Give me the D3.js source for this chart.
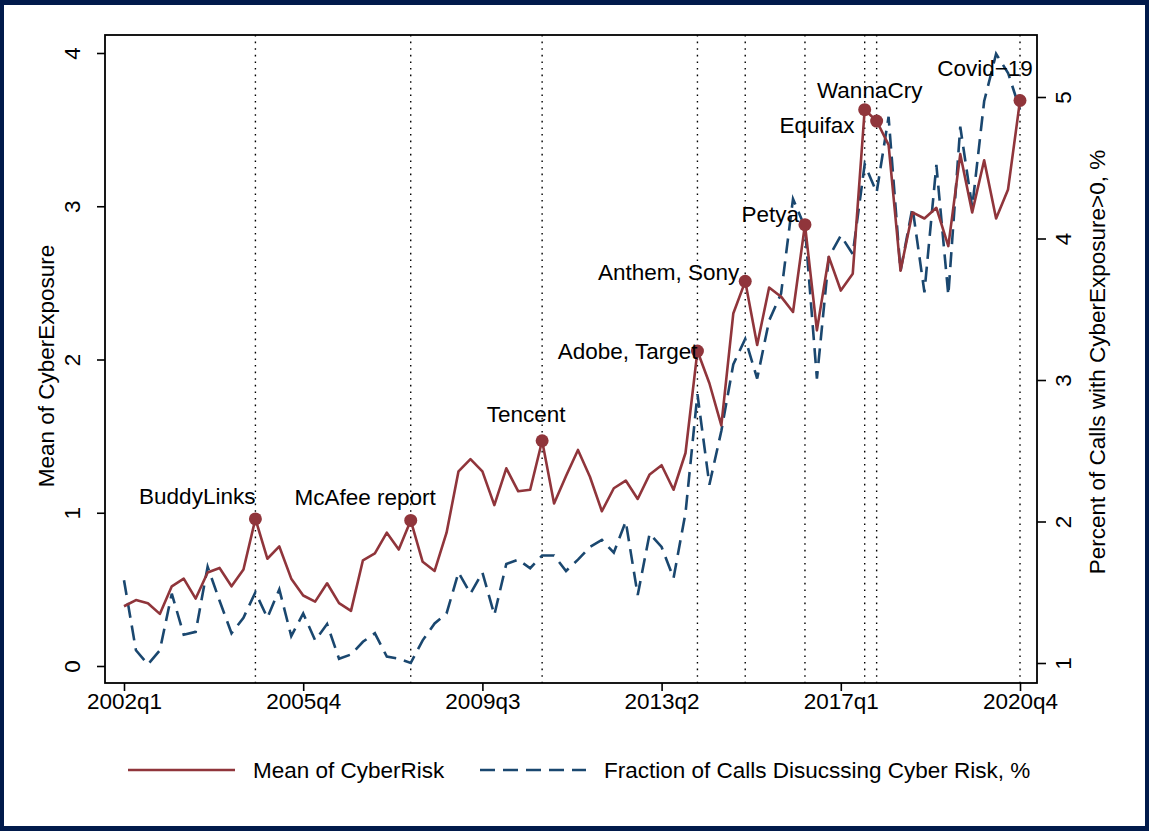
<!DOCTYPE html>
<html>
<head>
<meta charset="utf-8">
<script src="https://cdn.jsdelivr.net/npm/d3@7"></script>
<style>
  html, body { margin: 0; padding: 0; background: #011a4b; }
  svg { display: block; }
  text { font-family: "Liberation Sans", Arial, Helvetica, sans-serif; fill: #000; }
</style>
</head>
<body>
<svg id="chart" width="1149" height="831"></svg>
<script>
// quarterly series, 2002q1 .. 2020q4
var startYear = 2002;
var meanCyberRisk = [
  0.39, 0.43, 0.41, 0.34, 0.52, 0.57, 0.44, 0.61, 0.64, 0.52,
  0.63, 0.96, 0.70, 0.78, 0.57, 0.46, 0.42, 0.54, 0.41, 0.36,
  0.69, 0.735, 0.87, 0.76, 0.95, 0.68, 0.62, 0.87, 1.27, 1.35,
  1.27, 1.05, 1.29, 1.14, 1.15, 1.47, 1.06, 1.24, 1.41, 1.235,
  1.01, 1.16, 1.21, 1.09, 1.25, 1.31, 1.15, 1.39, 2.055, 1.845,
  1.57, 2.30, 2.51, 2.095, 2.47, 2.41, 2.31, 2.88, 2.19, 2.67,
  2.45, 2.56, 3.63, 3.556, 3.40, 2.58, 2.96, 2.92, 2.99, 2.74,
  3.34, 2.96, 3.30, 2.92, 3.11, 3.69
];
var fractionCalls = [
  1.585, 1.09, 0.99, 1.09, 1.49, 1.20, 1.22, 1.68, 1.44, 1.21,
  1.32, 1.50, 1.32, 1.52, 1.19, 1.35, 1.16, 1.275, 1.03, 1.06,
  1.15, 1.21, 1.045, 1.03, 1.00, 1.16, 1.28, 1.35, 1.64, 1.49,
  1.64, 1.34, 1.70, 1.73, 1.67, 1.76, 1.76, 1.65, 1.73, 1.82,
  1.87, 1.78, 2.00, 1.48, 1.915, 1.82, 1.60, 2.06, 2.90, 2.26,
  2.64, 3.11, 3.29, 3.01, 3.42, 3.61, 4.28, 4.08, 3.01, 3.87,
  4.02, 3.89, 4.525, 4.325, 4.86, 3.77, 4.22, 3.62, 4.52, 3.60,
  4.79, 4.22, 4.97, 5.305, 5.17, 4.91
];
var eventLabels = ["BuddyLinks", "McAfee report", "Tencent", "Adobe, Target", "Anthem, Sony", "Petya", "WannaCry", "Equifax", "Covid\u221219"];
var eventQuarters = ["2004q4", "2008q1", "2010q4", "2014q1", "2015q1", "2016q2", "2017q3", "2017q4", "2020q4"];
var xTickLabels = ["2002q1", "2005q4", "2009q3", "2013q2", "2017q1", "2020q4"];
var leftTicks = [0, 1, 2, 3, 4];
var rightTicks = [1, 2, 3, 4, 5];
var legendLabels = ["Mean of CyberRisk", "Fraction of Calls Disucssing Cyber Risk, %"];

// label placement next to each event marker: [anchor, dx, dy]
var labelPlace = [
  ["end", 0, -23], ["end", 25, -23], ["middle", -16, -27], ["end", 0, 0],
  ["end", -6, -9], ["end", -6, -11], ["middle", 5, -20], ["end", -22, 4],
  ["middle", -35, -32]
];

var RED = "#90353b", NAVY = "#1a476f";
var FS = 22.5;

function qIndex(s) {
  var p = s.split("q");
  return (+p[0] - startYear) * 4 + (+p[1] - 1);
}

var svg = d3.select("#chart");
svg.append("rect").attr("x", 4).attr("y", 5).attr("width", 1141).attr("height", 821).attr("fill", "#fff");

var plot = { left: 105, right: 1037, top: 35, bottom: 683 };

var x = d3.scaleLinear().domain([0, 75]).range([124, 1020]);
var yL = d3.scaleLinear().domain([0, 4]).range([666, 53]);
var yR = d3.scaleLinear().domain([1, 5]).range([663, 97]);

// event guide lines
var evIdx = eventQuarters.map(qIndex);
svg.append("g").selectAll("line").data(evIdx).join("line")
  .attr("x1", function(d) { return x(d); }).attr("x2", function(d) { return x(d); })
  .attr("y1", plot.top).attr("y2", plot.bottom)
  .attr("stroke", "#000").attr("stroke-width", 1.4).attr("stroke-dasharray", "1.6,5");

// lines
var lineR = d3.line().x(function(d, i) { return x(i); }).y(function(d) { return yL(d); });
var lineB = d3.line().x(function(d, i) { return x(i); }).y(function(d) { return yR(d); });

svg.append("path").datum(fractionCalls).attr("d", lineB)
  .attr("fill", "none").attr("stroke", NAVY).attr("stroke-width", 2.6)
  .attr("stroke-dasharray", "15,8");
svg.append("path").datum(meanCyberRisk).attr("d", lineR)
  .attr("fill", "none").attr("stroke", RED).attr("stroke-width", 2.6)
  .attr("stroke-linejoin", "round");

// event markers + labels
var ev = svg.append("g");
evIdx.forEach(function(q, k) {
  var cx = x(q), cy = yL(meanCyberRisk[q]);
  ev.append("circle").attr("cx", cx).attr("cy", cy).attr("r", 6.5).attr("fill", RED);
  var pl = labelPlace[k];
  ev.append("text").attr("x", cx + pl[1]).attr("y", cy + pl[2]).attr("dy", "0.35em")
    .attr("text-anchor", pl[0]).style("font-size", FS + "px").text(eventLabels[k]);
});

// frame
svg.append("rect").attr("x", plot.left).attr("y", plot.top)
  .attr("width", plot.right - plot.left).attr("height", plot.bottom - plot.top)
  .attr("fill", "none").attr("stroke", "#000").attr("stroke-width", 1.8);

// axes
var xAxis = d3.axisBottom(x).tickValues(xTickLabels.map(qIndex))
  .tickFormat(function(d, i) { return xTickLabels[i]; }).tickSize(8).tickPadding(2);
var gx = svg.append("g").attr("transform", "translate(0," + plot.bottom + ")").call(xAxis);

var gl = svg.append("g").attr("transform", "translate(" + plot.left + ",0)")
  .call(d3.axisLeft(yL).tickValues(leftTicks).tickFormat(d3.format("d")).tickSize(8));
gl.selectAll("text").attr("transform", "rotate(-90)").attr("x", 0).attr("y", -33)
  .attr("dy", "0.35em").attr("text-anchor", "middle");

var gr = svg.append("g").attr("transform", "translate(" + plot.right + ",0)")
  .call(d3.axisRight(yR).tickValues(rightTicks).tickFormat(d3.format("d")).tickSize(9));
gr.selectAll("text").attr("transform", "rotate(-90)").attr("x", 0).attr("y", 26)
  .attr("dy", "0.35em").attr("text-anchor", "middle");

[gx, gl, gr].forEach(function(g) {
  g.select(".domain").remove();
  g.selectAll("line").attr("stroke", "#000").attr("stroke-width", 1.6);
  g.selectAll("text").style("font-size", FS + "px").attr("fill", "#000")
    .style("font-family", '"Liberation Sans", Arial, sans-serif');
});

// axis titles
svg.append("text").attr("transform", "translate(46,366) rotate(-90)")
  .attr("text-anchor", "middle").attr("dy", "0.35em").style("font-size", FS + "px")
  .text("Mean of CyberExposure");
svg.append("text").attr("transform", "translate(1097,362) rotate(-90)")
  .attr("text-anchor", "middle").attr("dy", "0.35em").style("font-size", FS + "px")
  .text("Percent of Calls with CyberExposure>0, %");

// legend
var leg = svg.append("g");
leg.append("line").attr("x1", 128).attr("x2", 235).attr("y1", 770).attr("y2", 770)
  .attr("stroke", RED).attr("stroke-width", 2.6);
leg.append("text").attr("x", 253).attr("y", 770).attr("dy", "0.35em")
  .style("font-size", FS + "px").text(legendLabels[0]);
leg.append("line").attr("x1", 480).attr("x2", 586).attr("y1", 770).attr("y2", 770)
  .attr("stroke", NAVY).attr("stroke-width", 2.6).attr("stroke-dasharray", "15,8");
leg.append("text").attr("x", 604).attr("y", 770).attr("dy", "0.35em")
  .style("font-size", FS + "px").text(legendLabels[1]);
</script>
</body>
</html>
